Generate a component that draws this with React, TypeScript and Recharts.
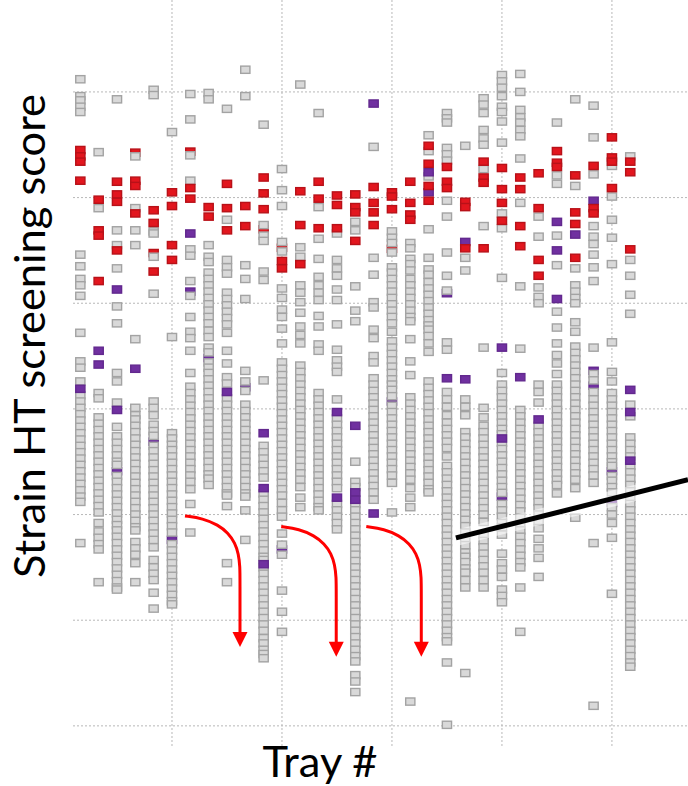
import React from 'react';
import { ScatterChart, Scatter, XAxis, YAxis, CartesianGrid, Label } from 'recharts';

const trays = [1, 2, 3, 4, 5, 6, 7, 8, 9, 10, 11, 12, 13, 14, 15, 16, 17, 18, 19, 20, 21, 22, 23, 24, 25, 26, 27, 28, 29, 30, 31];

const grayScores: number[][] = [
  [61.2, 59.6, 59.2, 58.6, 58.1, 44.6, 43.5, 42.3, 41.7, 40.7, 37.2, 34.5, 33.9, 32.6, 31.3, 30.7, 30.1, 29.5, 28.9, 28.3, 27.7, 27.1, 26.5, 25.9, 25.3, 24.7, 24.1, 23.5, 22.9, 22.3, 21.7, 21.2, 17.3],
  [54.3, 49.0, 31.5, 31.0, 29.2, 28.6, 28.0, 27.4, 26.8, 26.2, 25.6, 25.0, 24.4, 23.8, 23.2, 22.6, 22.0, 21.4, 20.8, 20.2, 19.2, 18.4, 17.8, 17.2, 16.7, 13.6],
  [59.3, 46.9, 45.5, 43.3, 39.7, 38.1, 33.4, 32.6, 30.6, 28.3, 27.4, 26.8, 26.2, 25.6, 25.0, 24.7, 23.65, 23.1, 22.5, 21.9, 21.3, 20.7, 20.1, 19.5, 19.0, 18.5, 17.9, 17.3, 16.7, 16.1, 15.5, 14.9, 14.3, 13.7, 13.1, 12.9],
  [53.9, 49.0, 46.9, 45.5, 36.6, 30.1, 29.4, 29.0, 28.4, 27.8, 27.2, 26.6, 26.0, 25.4, 24.8, 24.2, 23.6, 23.0, 22.4, 21.8, 21.2, 20.6, 20.0, 19.4, 18.8, 18.5, 17.4, 16.8, 16.2, 15.4, 13.6],
  [60.2, 59.7, 46.8, 46.6, 44.4, 40.9, 30.7, 30.1, 29.4, 28.5, 27.9, 27.45, 26.5, 26.0, 25.4, 24.8, 24.2, 23.6, 23.0, 22.4, 21.8, 21.2, 20.6, 20.0, 19.4, 18.8, 18.2, 17.6, 16.9, 15.7, 15.0, 14.4, 13.8, 12.6, 11.1],
  [56.2, 36.8, 27.7, 27.2, 26.6, 26.1, 25.5, 24.9, 24.3, 23.7, 23.1, 22.5, 21.9, 21.3, 20.7, 20.1, 19.5, 18.9, 18.3, 17.2, 16.6, 16.0, 15.4, 14.8, 14.2, 13.6, 13.0, 12.4, 11.8, 11.5],
  [59.8, 57.4, 54.0, 51.6, 45.1, 44.5, 42.1, 40.7, 38.7, 37.3, 36.7, 35.5, 33.4, 32.1, 31.5, 30.9, 30.3, 29.7, 29.1, 28.5, 27.9, 27.3, 26.7, 26.1, 25.5, 24.9, 24.3, 23.7, 23.1, 22.4, 21.0, 18.3],
  [59.9, 59.3, 45.5, 44.4, 43.9, 42.9, 42.3, 41.7, 41.1, 40.5, 39.9, 39.3, 38.7, 38.1, 37.4, 36.8, 35.8, 35.35, 34.4, 33.9, 33.4, 32.8, 32.2, 31.6, 31.0, 30.4, 29.8, 29.2, 28.6, 28.0, 27.4, 26.8, 26.2, 25.6, 25.0, 24.4, 23.8, 23.4, 22.8],
  [58.4, 47.9, 44.1, 43.4, 42.8, 41.0, 40.4, 39.8, 39.2, 38.6, 38.0, 37.2, 35.5, 34.3, 33.0, 32.4, 31.0, 30.4, 29.8, 29.2, 28.6, 28.0, 27.4, 26.8, 26.2, 25.6, 25.0, 24.4, 23.8, 23.2, 22.6, 22.0, 21.8, 20.8, 15.4, 13.6],
  [62.1, 59.6, 43.6, 42.3, 40.4, 33.6, 32.6, 31.7, 30.4, 29.8, 29.2, 28.6, 28.0, 27.4, 26.8, 26.2, 25.6, 25.0, 24.4, 23.8, 23.2, 22.6, 22.0, 21.7, 20.4, 17.6],
  [56.9, 47.4, 46.4, 45.9, 43.0, 42.2, 32.7, 26.5, 25.9, 25.3, 24.7, 24.1, 23.5, 22.0, 21.4, 20.8, 20.2, 19.6, 19.0, 18.4, 17.8, 17.2, 16.6, 16.0, 15.7, 15.0, 14.4, 13.8, 13.2, 12.6, 12.0, 11.4, 10.8, 10.2, 9.6, 9.0, 8.3, 7.8, 7.2, 6.8, 6.4],
  [52.7, 50.7, 49.2, 45.8, 44.9, 41.4, 40.5, 39.4, 38.7, 37.6, 36.2, 34.4, 33.8, 33.2, 32.6, 32.0, 31.4, 30.8, 30.2, 29.6, 29.0, 28.4, 27.8, 27.2, 26.6, 26.0, 25.4, 24.8, 24.2, 23.6, 23.0, 22.4, 21.8, 21.1, 20.4, 19.8, 18.2, 17.15, 16.2, 12.8, 10.8, 8.9],
  [60.7, 45.3, 44.4, 41.7, 41.0, 40.1, 39.1, 37.8, 37.0, 36.2, 34.1, 33.5, 32.9, 32.3, 31.7, 31.1, 30.5, 29.9, 29.3, 28.7, 28.1, 27.5, 26.9, 26.3, 25.7, 25.1, 24.5, 23.9, 23.3, 22.6, 21.6, 20.7],
  [58.0, 49.1, 46.1, 44.2, 42.5, 41.7, 41.0, 40.3, 38.8, 37.8, 36.1, 35.5, 31.5, 30.9, 30.3, 29.7, 29.1, 28.5, 27.9, 27.3, 26.7, 26.1, 25.5, 24.9, 24.3, 23.7, 23.1, 22.5, 21.9, 21.3, 20.7, 20.4],
  [46.6, 44.1, 43.3, 42.6, 41.3, 40.3, 38.0, 35.6, 34.6, 34.0, 33.5, 30.9, 29.1, 28.5, 27.9, 27.3, 26.7, 26.1, 25.5, 24.9, 24.3, 23.7, 23.1, 22.5, 21.0, 20.4, 19.8, 19.2, 18.6],
  [47.7, 46.9, 41.6, 39.3, 38.3, 25.0, 23.1, 22.6, 21.0, 20.4, 19.8, 19.2, 18.6, 18.0, 17.4, 16.8, 16.2, 15.6, 15.0, 14.4, 13.8, 13.2, 12.6, 12.0, 11.4, 10.8, 10.2, 9.6, 9.0, 8.4, 7.8, 7.2, 6.6, 6.1, 4.8, 4.2, 3.2],
  [54.8, 44.3, 42.7, 40.1, 39.6, 37.5, 36.7, 35.0, 34.4, 32.9, 32.3, 31.7, 31.1, 30.5, 29.9, 29.3, 28.7, 28.1, 27.5, 26.9, 26.3, 25.7, 25.1, 24.5, 23.9, 23.3, 22.7, 22.1, 21.4],
  [46.8, 46.2, 45.7, 44.8, 43.4, 42.9, 42.3, 41.7, 41.1, 40.5, 39.9, 39.3, 38.7, 38.1, 37.3, 36.4, 35.8, 35.2, 34.6, 34.0, 33.4, 32.8, 32.3, 31.8, 31.2, 30.3, 29.7, 29.1, 28.5, 27.9, 27.3, 26.7, 26.1, 25.5, 24.9, 24.3, 23.7, 23.0, 20.2],
  [45.7, 45.2, 44.2, 43.7, 43.1, 42.3, 41.7, 41.1, 40.5, 39.9, 39.3, 38.7, 38.3, 36.6, 34.5, 33.2, 31.1, 30.5, 29.9, 29.3, 28.7, 28.1, 27.5, 26.9, 26.3, 25.7, 25.1, 24.5, 23.9, 23.3, 22.5, 21.6, 20.7, 2.3],
  [55.9, 54.4, 52.0, 47.0, 44.3, 43.2, 42.7, 42.0, 41.4, 40.8, 40.2, 39.6, 39.0, 38.4, 37.9, 37.5, 36.9, 36.2, 35.4, 32.6, 32.0, 31.4, 30.8, 30.2, 29.6, 29.0, 28.4, 27.8, 27.2, 26.6, 26.0, 25.4, 24.8, 24.2, 23.6, 23.0, 22.4, 22.1],
  [58.0, 57.5, 57.1, 54.7, 54.1, 53.5, 49.7, 48.2, 44.8, 42.6, 41.2, 36.3, 35.6, 31.6, 30.9, 30.2, 29.4, 28.7, 28.1, 27.5, 26.9, 26.3, 25.5, 24.6, 24.0, 23.4, 22.8, 22.2, 21.6, 21.0, 20.4, 19.8, 19.2, 18.6, 18.0, 17.4, 16.8, 16.2, 15.6, 15.0, 14.4, 13.8, 13.2, 12.6, 12.0, 11.4, 10.8, 10.2, 9.6, 9.0, 8.4, 8.0, 6.0, 0.1],
  [54.9, 44.3, 43.1, 30.9, 30.2, 29.4, 27.8, 27.3, 26.7, 26.1, 25.5, 24.9, 24.3, 23.7, 23.1, 22.5, 21.9, 21.3, 20.7, 20.1, 19.5, 18.9, 18.3, 17.7, 17.1, 16.4, 16.0, 15.5, 14.9, 14.5, 13.8, 13.1, 5.0],
  [59.4, 58.8, 58.0, 56.4, 55.6, 55.0, 52.7, 47.3, 35.8, 30.1, 29.2, 28.4, 27.8, 27.2, 26.6, 26.0, 25.4, 24.8, 24.2, 23.6, 23.0, 22.4, 21.8, 21.2, 20.6, 20.0, 19.3, 18.1, 17.5, 16.9, 16.3, 15.7, 15.1, 14.5, 13.8, 13.1],
  [61.6, 61.0, 60.4, 59.6, 58.6, 58.1, 57.2, 55.2, 48.5, 47.1, 42.4, 33.4, 32.3, 31.7, 31.1, 30.5, 29.9, 29.3, 28.7, 28.1, 27.6, 26.8, 26.2, 25.6, 25.0, 24.4, 23.8, 23.2, 22.6, 22.05, 21.0, 20.4, 19.8, 19.2, 18.8, 18.1, 16.3, 15.4, 14.8, 14.1, 12.9, 12.3, 11.7],
  [61.7, 60.0, 58.3, 57.6, 57.1, 56.4, 55.8, 53.7, 49.5, 41.6, 35.7, 29.9, 29.3, 28.7, 28.1, 27.5, 26.9, 26.3, 25.7, 25.1, 24.5, 23.9, 23.3, 22.7, 22.1, 21.5, 20.9, 20.3, 19.7, 19.1, 18.5, 17.9, 17.3, 16.7, 16.1, 15.5, 15.0, 13.1, 8.9],
  [48.2, 46.3, 41.5, 40.6, 40.0, 32.3, 31.6, 30.6, 28.4, 27.8, 27.2, 26.6, 26.0, 25.4, 24.8, 24.2, 23.6, 23.0, 22.4, 21.8, 21.2, 20.6, 20.0, 19.4, 18.7, 17.7, 16.8, 15.9, 14.1],
  [57.1, 52.1, 51.3, 46.4, 43.6, 39.2, 37.7, 36.2, 35.1, 34.3, 33.3, 32.3, 31.7, 31.1, 30.5, 29.9, 29.3, 28.7, 28.1, 27.5, 26.9, 26.3, 25.7, 25.1, 24.5, 23.9, 23.3, 22.8, 22.0],
  [59.3, 51.1, 43.3, 41.7, 41.1, 40.5, 40.0, 38.2, 37.3, 35.9, 35.3, 34.7, 34.1, 33.5, 32.9, 32.3, 31.7, 31.1, 30.5, 29.9, 29.3, 28.7, 28.1, 27.5, 26.9, 26.3, 25.7, 25.1, 24.5, 23.9, 23.3, 22.5, 19.7],
  [58.7, 55.7, 52.2, 47.3, 46.3, 45.6, 44.6, 43.4, 42.1, 35.8, 33.3, 32.7, 31.6, 30.9, 30.3, 29.7, 29.1, 28.5, 27.9, 27.3, 26.7, 26.1, 25.5, 24.9, 24.3, 23.7, 23.0, 17.3, 1.9],
  [53.0, 50.1, 47.9, 46.2, 43.7, 36.3, 33.5, 32.6, 31.5, 30.9, 30.3, 29.7, 29.1, 28.5, 27.9, 27.3, 26.7, 26.1, 25.5, 24.95, 24.6, 23.65, 23.2, 22.6, 22.1, 20.7, 20.0, 19.2, 17.8, 12.5],
  [53.9, 44.1, 42.6, 40.8, 39.0, 30.4, 29.3, 27.3, 26.7, 26.1, 25.5, 24.6, 24.0, 23.4, 22.8, 22.2, 21.6, 21.0, 20.4, 19.8, 19.2, 18.6, 18.0, 17.4, 16.8, 16.2, 15.6, 15.0, 14.4, 13.8, 13.2, 12.6, 12.0, 11.4, 10.8, 10.2, 9.6, 9.0, 8.4, 7.8, 7.2, 6.6, 6.0, 5.6],
];

const redScores: number[][] = [
  [54.5, 53.9, 53.4, 51.6],
  [49.8, 46.9, 46.4, 42.1],
  [51.5, 50.3, 49.6, 45.0],
  [51.6, 51.1, 48.5],
  [48.8, 47.6, 43.0],
  [50.5, 49.2, 45.5, 44.1],
  [50.9, 49.9],
  [49.1, 48.2],
  [51.3, 49.0, 46.9],
  [49.2, 47.3],
  [51.9, 50.4, 48.9],
  [44.0, 43.3],
  [50.6, 47.4, 43.7],
  [51.5, 49.9, 47.1],
  [50.2, 49.3, 47.1],
  [50.3, 49.1, 48.6, 45.9],
  [51.0, 49.5, 48.6, 47.4],
  [50.5, 50.1, 48.9],
  [51.5, 49.5, 48.4, 47.9],
  [54.9, 53.2, 51.1, 49.7],
  [52.9, 51.5, 50.9],
  [49.6, 49.1, 45.2],
  [53.4, 51.9, 51.4, 45.2],
  [52.8, 50.8, 49.5, 47.8],
  [51.9, 50.8, 47.3, 45.4],
  [52.3, 49.0, 44.1, 42.6],
  [54.4, 53.3, 52.9],
  [52.1, 48.6, 47.5, 44.3],
  [53.0, 49.0, 48.5],
  [55.7, 53.8, 53.4, 50.9],
  [53.4, 52.4, 45.1],
];

const purpleScores: number[][] = [
  [31.9], [35.5, 34.2], [41.3, 29.9], [33.8], [], [], [46.6], [], [31.6], [],
  [27.7, 22.5, 15.3], [], [], [], [29.7, 21.6], [28.4, 22.1, 21.4], [58.9, 20.1], [], [], [52.4, 50.5],
  [32.9], [45.8, 32.8], [], [35.8, 27.2], [33.0], [29.0], [47.7, 45.0, 40.4], [46.5], [49.7], [],
  [31.8, 29.7, 25.1],
];

// strains partly hidden behind grey boxes: [tray, score]
const redBehind: [number, number][] = [[4, 54.25], [5, 44.75], [7, 54.35], [11, 47.0], [12, 45.25], [18, 45.15]];
const purpleBehind: [number, number][] = [
  [3, 24.1], [5, 26.9], [6, 17.6], [7, 41.1], [8, 34.8], [10, 32.05], [12, 16.7], [18, 30.7],
  [21, 40.95], [24, 21.7], [29, 33.6], [29, 32.2], [30, 24.1], [30, 21.1],
];

const xGridTrays = [6, 12, 18, 24, 30];
const yGridScores = [0, 10, 20, 30, 40, 50, 60];

const arrow1 = [
  { x: 6.71, y: 19.87 }, { x: 7.69, y: 19.63 }, { x: 8.51, y: 19.02 }, { x: 9.06, y: 18.26 }, { x: 9.44, y: 17.31 },
  { x: 9.63, y: 16.27 }, { x: 9.71, y: 15.04 }, { x: 9.71, y: 13.81 }, { x: 9.71, y: 8.7 },
];
const arrow2 = [
  { x: 11.96, y: 18.86 }, { x: 12.94, y: 18.62 }, { x: 13.76, y: 18.01 }, { x: 14.31, y: 17.25 }, { x: 14.69, y: 16.3 },
  { x: 14.88, y: 15.26 }, { x: 14.96, y: 14.03 }, { x: 14.96, y: 12.8 }, { x: 14.96, y: 7.76 },
];
const arrow3 = [
  { x: 16.6, y: 18.86 }, { x: 17.58, y: 18.62 }, { x: 18.4, y: 18.01 }, { x: 18.95, y: 17.25 }, { x: 19.33, y: 16.3 },
  { x: 19.52, y: 15.26 }, { x: 19.6, y: 14.03 }, { x: 19.6, y: 12.8 }, { x: 19.6, y: 7.76 },
];
const arrowTips = [{ x: 9.71, y: 7.47 }, { x: 14.96, y: 6.53 }, { x: 19.6, y: 6.53 }];
const trendLine = [{ x: 21.49, y: 17.79 }, { x: 34.15, y: 23.3 }];

const byTray = (cols: number[][]) => cols.flatMap((scores, i) => scores.map((s) => ({ x: trays[i], y: s })));
const fromPairs = (pairs: [number, number][]) => pairs.map(([t, s]) => ({ x: t, y: s }));

const grayData = byTray(grayScores);
const redData = byTray(redScores);
const purpleData = byTray(purpleScores);
const redBehindData = fromPairs(redBehind);
const purpleBehindData = fromPairs(purpleBehind);

const box = (fill: string, stroke: string) => (p: any) => (
  <rect x={p.cx - 4.6} y={p.cy - 3.6} width={9.2} height={7.2} fill={fill} stroke={stroke} strokeWidth={1.4} />
);
const grayBox = box('#d9d9d9', '#a3a3a3');
const redBox = box('#e2161e', '#b81118');
const purpleBox = box('#7030a0', '#62288e');
const noShape = () => <g />;
const noTick = () => <g />;
const tipShape = (p: any) => (
  <polygon points={`${p.cx - 7.5},${p.cy - 15} ${p.cx + 7.5},${p.cy - 15} ${p.cx},${p.cy}`} fill="#ff0000" />
);

const FONT = "Lato, 'Liberation Sans', sans-serif";

const YLabel = () => (
  <text x={45} y={336} transform="rotate(-90 45 336)" textAnchor="middle" fontFamily={FONT} fontSize={42}
    fill="#000" textLength={484} lengthAdjust="spacingAndGlyphs">
    Strain HT screening score
  </text>
);
const XLabel = () => (
  <text x={320} y={777} textAnchor="middle" fontFamily={FONT} fontSize={43} fill="#000"
    textLength={115} lengthAdjust="spacingAndGlyphs">
    Tray #
  </text>
);

export default function App() {
  return (
    <div style={{ position: 'absolute', left: 0, top: 0, width: 688, height: 786, background: '#fff' }}>
      <ScatterChart width={688} height={786} margin={{ top: 0, right: 0, bottom: 0, left: 0 }}>
        <CartesianGrid stroke="#b8b8b8" strokeWidth={1} strokeDasharray="2 2"
          horizontalValues={yGridScores} verticalValues={xGridTrays} />
        <XAxis type="number" dataKey="x" domain={[0.6, 34.15]} ticks={xGridTrays} allowDataOverflow interval={0}
          height={39} tick={noTick} tickLine={false} axisLine={false}>
          <Label content={<XLabel />} />
        </XAxis>
        <YAxis type="number" dataKey="y" domain={[-2, 68.7]} ticks={yGridScores} allowDataOverflow interval={0}
          width={73} tick={noTick} tickLine={false} axisLine={false}>
          <Label content={<YLabel />} />
        </YAxis>
        <Scatter data={redBehindData} shape={redBox} isAnimationActive={false} />
        <Scatter data={purpleBehindData} shape={purpleBox} isAnimationActive={false} />
        <Scatter data={grayData} shape={grayBox} isAnimationActive={false} />
        <Scatter data={purpleData} shape={purpleBox} isAnimationActive={false} />
        <Scatter data={redData} shape={redBox} isAnimationActive={false} />
        <Scatter data={trendLine} shape={noShape} line={{ stroke: '#ffffff', strokeWidth: 16, strokeOpacity: 0.55 }} isAnimationActive={false} />
        <Scatter data={trendLine} shape={noShape} line={{ stroke: '#000000', strokeWidth: 5 }} isAnimationActive={false} />
        {[arrow1, arrow2, arrow3].map((a, i) => (
          <Scatter key={i} data={a} shape={noShape} line={{ stroke: '#ff0000', strokeWidth: 3, fill: 'none' }}
            lineJointType="basis" isAnimationActive={false} />
        ))}
        <Scatter data={arrowTips} shape={tipShape} isAnimationActive={false} />
      </ScatterChart>
    </div>
  );
}
